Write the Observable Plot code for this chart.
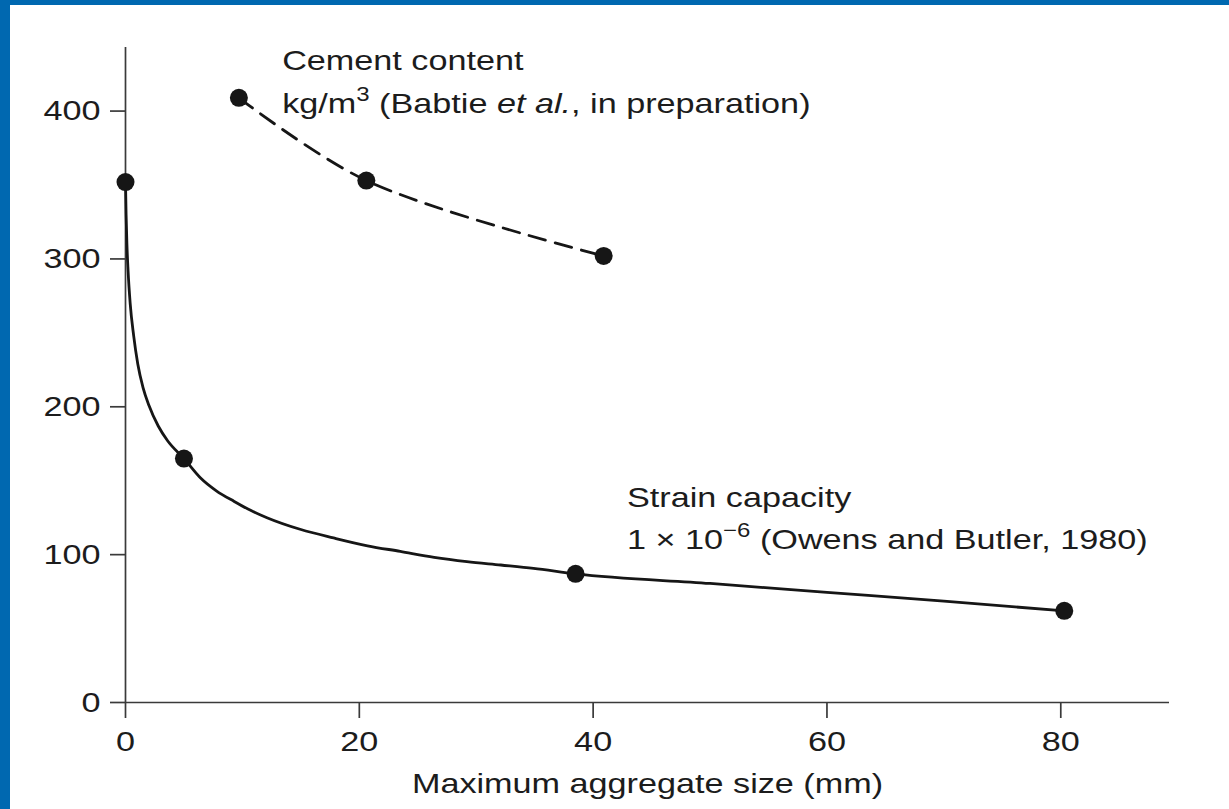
<!DOCTYPE html>
<html><head><meta charset="utf-8">
<script src="https://cdn.jsdelivr.net/npm/d3@7"></script>
<script src="https://cdn.jsdelivr.net/npm/@observablehq/plot@0.6"></script>
<style>
html,body{margin:0;padding:0;background:#fff;}
#frame{width:1219px;height:804px;border-left:10px solid #0068b0;border-top:5px solid #0068b0;overflow:hidden;background:#fff;}
</style></head><body><div id="frame"></div>
<script>
// Tick values
const xTicks = [0, 20, 40, 60, 80];
const yTicks = [0, 100, 200, 300, 400];

// Strain capacity (Owens and Butler, 1980): measured points
const strainX = [0, 5.0, 38.5, 80.3];
const strainY = [352, 165, 87, 62];
// Strain capacity: fitted curve
const strainCurveX = [0, 0.05, 0.12, 0.22, 0.4, 0.7, 1.05, 1.5, 2.0, 2.8, 3.6, 5.0, 6.4, 7.8, 9.3, 10.7, 12.1, 15.0, 17.8, 20.7, 23.5, 26.4, 29.2, 32.1, 34.9, 38.5, 50, 60, 70, 80.3];
const strainCurveY = [352, 330, 310, 292, 270, 248, 229, 213, 201, 187, 177, 165, 152, 143, 136, 130, 125, 117, 111.3, 106, 102.2, 98.2, 95.3, 93, 90.7, 87, 80.5, 74.5, 68.5, 62];

// Cement content kg/m3 (Babtie et al., in preparation)
const cementX = [9.7, 20.6, 40.9];
const cementY = [409, 353, 302];

// Annotation texts
const cementLabel = ["Cement content", "kg/m3 (Babtie et al., in preparation)"];
const strainLabel = ["Strain capacity", "1 × 10−6 (Owens and Butler, 1980)"];
const xLabel = "Maximum aggregate size (mm)";

const strain = strainX.map((x, i) => ({x, y: strainY[i]}));
const strainCurve = strainCurveX.map((x, i) => ({x, y: strainCurveY[i]}));
const cement = cementX.map((x, i) => ({x, y: cementY[i]}));

const ink = "#161616";
const axisInk = "#3a3a3a";
const txt = "#1c1c1c";
const FS = 28.5;

const plot = Plot.plot({
  width: 1219,
  height: 804,
  marginLeft: 115,
  marginRight: 60,
  marginTop: 42,
  marginBottom: 107,
  style: {fontFamily: "'Liberation Sans', Arial, sans-serif", fontSize: FS + "px", color: txt, background: "#fff"},
  x: {domain: [0, 89.3]},
  y: {domain: [0, 443]},
  marks: [
    Plot.ruleY([0], {stroke: axisInk, strokeWidth: 1.7}),
    Plot.ruleX([0], {stroke: axisInk, strokeWidth: 1.7}),
    Plot.axisX(xTicks, {tickSize: 16, tickPadding: 12, label: null, stroke: axisInk, strokeWidth: 1.7, fill: txt, fontSize: FS}),
    Plot.axisY(yTicks, {tickSize: 15, tickPadding: 10, label: null, stroke: axisInk, strokeWidth: 1.7, fill: txt, fontSize: FS}),
    Plot.text([xLabel], {frameAnchor: "bottom", lineAnchor: "bottom", dy: 90, fill: txt, fontSize: FS}),
    Plot.line(strainCurve, {x: "x", y: "y", curve: "monotone-x", stroke: ink, strokeWidth: 2.8}),
    Plot.line(cement, {x: "x", y: "y", curve: "catmull-rom", stroke: ink, strokeWidth: 2.8, strokeDasharray: "17,10"}),
    Plot.dot(strain, {x: "x", y: "y", r: 9, fill: ink, stroke: "none"}),
    Plot.dot(cement, {x: "x", y: "y", r: 9, fill: ink, stroke: "none"}),
    Plot.text([cementLabel[0]], {x: 13.4, y: 428, textAnchor: "start", lineAnchor: "bottom", fill: txt, fontSize: FS}),
    Plot.text([cementLabel[1]], {x: 13.4, y: 399, textAnchor: "start", lineAnchor: "bottom", fill: txt, fontSize: FS}),
    Plot.text([strainLabel[0]], {x: 42.9, y: 132, textAnchor: "start", lineAnchor: "bottom", fill: txt, fontSize: FS}),
    Plot.text([strainLabel[1]], {x: 42.9, y: 104, textAnchor: "start", lineAnchor: "bottom", fill: txt, fontSize: FS})
  ]
});

document.getElementById("frame").appendChild(plot);

// Rich text: superscripts and italics
const NS = "http://www.w3.org/2000/svg";
function rich(full, parts) {
  d3.select(plot).selectAll("text").each(function() {
    if (this.textContent !== full) return;
    this.textContent = "";
    for (const p of parts) {
      const ts = document.createElementNS(NS, "tspan");
      ts.textContent = p.t;
      if (p.italic) ts.setAttribute("font-style", "italic");
      if (p.sup) { ts.setAttribute("font-size", "20px"); ts.setAttribute("dy", "-12"); }
      if (p.after) ts.setAttribute("dy", "12");
      this.appendChild(ts);
    }
  });
}
rich(cementLabel[1], [{t: "kg/m"}, {t: "3", sup: true}, {t: " (Babtie ", after: true}, {t: "et al.", italic: true}, {t: ", in preparation)"}]);
rich(strainLabel[1], [{t: "1 × 10"}, {t: "−6", sup: true}, {t: " (Owens and Butler, 1980)", after: true}]);

// The original lettering is horizontally stretched
d3.select(plot).selectAll("text").each(function() {
  const t = this.getAttribute("transform") || "";
  this.setAttribute("transform", t + " scale(1.2,1)");
});
</script></body></html>
